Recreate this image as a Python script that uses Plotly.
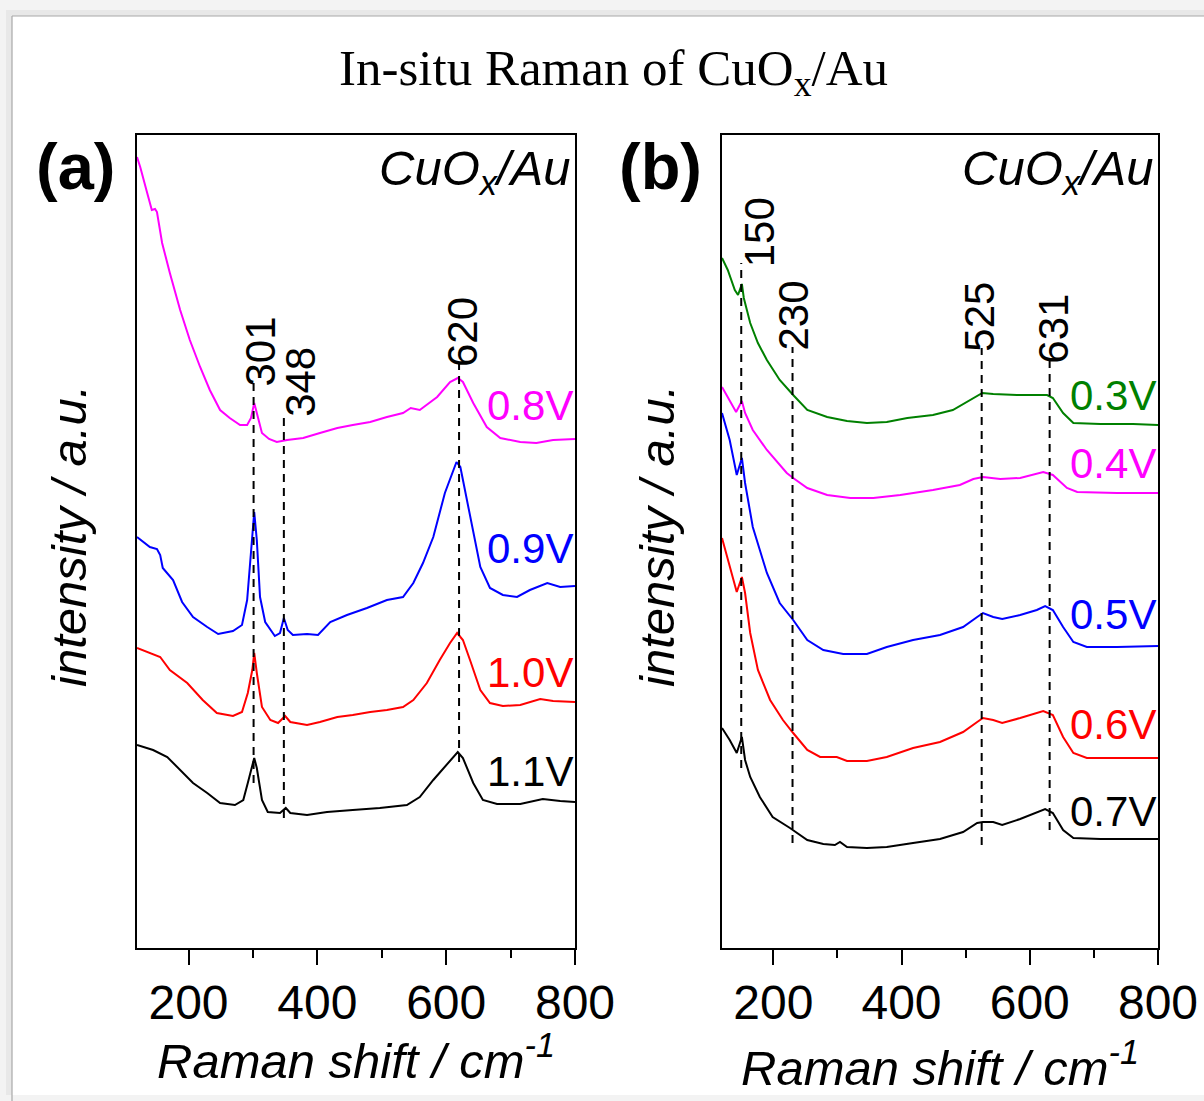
import plotly.graph_objects as go

W, H = 1204, 1101
SANS = "Liberation Sans, Arial, sans-serif"
SERIF = "Liberation Serif, Times New Roman, serif"

# ---------------- panel (a): anodic potentials ----------------
a_x_08 = [120, 125, 135, 143, 148, 151, 159, 171, 187, 202, 218, 233, 249, 264, 280, 291, 297, 302, 306, 314,
          325, 337, 353, 378, 404, 431, 455, 482, 508, 533, 545, 559, 586, 606, 618, 626, 642, 663, 684, 715,
          740, 766, 800]
a_y_08 = [791, 781, 757, 738, 739, 736, 705, 675, 638, 608, 581, 558, 538, 530, 523, 523, 530, 545, 535, 515,
          509, 506, 508, 510, 515, 520, 523, 526, 531, 535, 540, 538, 551, 566, 570, 566, 545, 521, 510, 506,
          505, 508, 509]

a_x_09 = [120, 140, 151, 156, 160, 176, 190, 207, 229, 246, 269, 283, 291, 297, 302, 306, 311, 319, 334, 342,
          348, 354, 362, 384, 401, 420, 446, 477, 508, 533, 549, 564, 580, 598, 616, 622, 634, 653, 668, 688,
          710, 730, 757, 777, 800]
a_y_09 = [411, 401, 399, 393, 380, 368, 346, 331, 321, 314, 317, 323, 348, 398, 436, 408, 351, 326, 312, 315,
          330, 318, 313, 314, 313, 326, 333, 340, 348, 351, 365, 385, 411, 455, 486, 481, 441, 381, 360, 353,
          351, 358, 365, 361, 362]

a_x_10 = [120, 140, 156, 171, 198, 222, 244, 269, 283, 292, 299, 302, 306, 314, 327, 339, 350, 358, 384, 404,
          431, 455, 482, 508, 533, 549, 570, 590, 606, 617, 626, 637, 653, 668, 688, 715, 746, 766, 800]
a_y_10 = [300, 295, 291, 278, 265, 248, 235, 232, 236, 255, 278, 295, 275, 241, 228, 225, 232, 226, 223, 226,
          231, 233, 236, 238, 241, 248, 265, 288, 305, 315, 308, 288, 258, 245, 242, 243, 249, 247, 246]

a_x_11 = [120, 145, 167, 187, 207, 229, 249, 272, 285, 292, 299, 302, 306, 314, 323, 342, 351, 358, 384, 415,
          455, 497, 539, 559, 580, 601, 618, 626, 642, 657, 679, 715, 750, 777, 800]
a_y_11 = [203, 198, 191, 178, 165, 155, 145, 143, 148, 165, 181, 190, 180, 148, 136, 135, 140, 135, 133, 136,
          138, 140, 143, 151, 168, 183, 196, 190, 165, 148, 144, 144, 149, 147, 146]

a_potentials = ["0.8V", "0.9V", "1.0V", "1.1V"]
a_peaks = [301, 348, 620]
a_peak_top = [565, 535, 585]
a_peak_bottom = [165, 130, 186]

# ---------------- panel (b): reducing potentials ----------------
b_x_03 = [120, 129, 140, 145, 151, 154, 164, 176, 190, 210, 231, 253, 284, 315, 346, 377, 409, 449, 480, 507,
          526, 543, 580, 627, 636, 652, 668, 710, 761, 800]
b_y_03 = [690, 678, 658, 653, 664, 650, 625, 605, 588, 568, 553, 538, 531, 527, 525, 526, 530, 533, 538, 548,
          555, 554, 553, 553, 550, 535, 525, 524, 524, 523]

b_x_04 = [120, 132, 142, 151, 156, 168, 190, 221, 231, 253, 284, 320, 356, 398, 449, 491, 512, 527, 554, 585,
          621, 636, 658, 674, 736, 800]
b_y_04 = [561, 548, 536, 547, 535, 518, 498, 475, 470, 460, 453, 450, 450, 453, 458, 463, 469, 471, 469, 470,
          476, 473, 460, 456, 455, 455]

b_x_05 = [120, 132, 143, 151, 156, 168, 179, 190, 210, 231, 253, 278, 309, 346, 377, 418, 460, 496, 518, 527,
          543, 557, 585, 611, 624, 636, 652, 668, 689, 736, 800]
b_y_05 = [535, 508, 473, 490, 465, 421, 398, 375, 345, 328, 308, 298, 294, 294, 301, 308, 313, 321, 331, 335,
          331, 329, 333, 338, 342, 338, 321, 306, 301, 301, 302]

b_x_06 = [120, 132, 143, 151, 156, 164, 176, 195, 215, 231, 253, 273, 299, 315, 346, 377, 418, 460, 496, 518,
          527, 543, 557, 585, 621, 636, 652, 668, 689, 736, 800]
b_y_06 = [410, 381, 356, 371, 355, 315, 278, 248, 228, 215, 198, 191, 191, 187, 187, 191, 200, 206, 216, 226,
          230, 228, 225, 230, 237, 233, 211, 195, 190, 190, 190]

b_x_07 = [120, 132, 143, 151, 156, 164, 179, 199, 226, 253, 278, 296, 304, 315, 346, 377, 418, 460, 496, 518,
          527, 543, 557, 585, 624, 636, 652, 668, 710, 800]
b_y_07 = [220, 208, 195, 211, 188, 171, 151, 131, 120, 108, 104, 103, 106, 101, 100, 101, 105, 109, 116, 125,
          126, 126, 123, 129, 139, 135, 118, 110, 109, 109]

b_potentials = ["0.3V", "0.4V", "0.5V", "0.6V", "0.7V"]
b_peaks = [150, 230, 525, 631]
b_peak_top = [685, 601, 600, 588]
b_peak_bottom = [180, 105, 103, 118]

# ---------------- styling ----------------
MAGENTA, BLUE, RED, BLACK, GREEN = "#ff00ff", "#0000ff", "#ff0000", "#000000", "#008000"

panel_a = [(a_x_08, a_y_08, MAGENTA), (a_x_09, a_y_09, BLUE), (a_x_10, a_y_10, RED), (a_x_11, a_y_11, BLACK)]
panel_b = [(b_x_03, b_y_03, GREEN), (b_x_04, b_y_04, MAGENTA), (b_x_05, b_y_05, BLUE),
           (b_x_06, b_y_06, RED), (b_x_07, b_y_07, BLACK)]

a_label_y = [543, 400, 276, 177]
b_label_y = [553, 485, 334, 224, 137]
a_peak_shift = [6, 16, 3]
b_peak_shift = [18, 0, -3, 3]

fig = go.Figure()


def line_trace(x, y, color, xa, ya, width=2.0, dash=None):
    return go.Scatter(x=x, y=y, mode="lines", xaxis=xa, yaxis=ya, showlegend=False, hoverinfo="skip",
                      line=dict(color=color, width=width, dash=dash))


for x, y, c in panel_a:
    fig.add_trace(line_trace(x, y, c, "x", "y"))
for x, y, c in panel_b:
    fig.add_trace(line_trace(x, y, c, "x2", "y2"))

for p, top, bot in zip(a_peaks, a_peak_top, a_peak_bottom):
    fig.add_trace(line_trace([p, p], [bot, top], BLACK, "x", "y", width=2, dash="8px,6px"))
for p, top, bot in zip(b_peaks, b_peak_top, b_peak_bottom):
    fig.add_trace(line_trace([p, p], [bot, top], BLACK, "x2", "y2", width=2, dash="8px,6px"))

x_dom_a = [137 / W, 575 / W]
x_dom_b = [722 / W, 1158 / W]
y_dom = [1 - 948 / H, 1 - 135 / H]

xaxis_style = dict(
    range=[120, 800], showline=True, mirror=True, linecolor="black", linewidth=2,
    ticks="outside", ticklen=15, tickwidth=2, tickcolor="black", ticklabelstandoff=-4,
    tickvals=[200, 400, 600, 800], tickfont=dict(family=SANS, size=48, color="black"),
    minor=dict(tickvals=[300, 500, 700], ticks="outside", ticklen=8, tickwidth=2, tickcolor="black"),
    showgrid=False, zeroline=False, fixedrange=True, automargin=False,
)
yaxis_style = dict(
    range=[0, 813], showline=True, mirror=True, linecolor="black", linewidth=2,
    ticks="", showticklabels=False, showgrid=False, zeroline=False, fixedrange=True, automargin=False,
)

ann = []


def px(xp, yp):
    return xp / W, 1 - yp / H


# figure title
tx, ty = px(613, 72)
ann.append(dict(text="In-situ Raman of CuO<sub>x</sub>/Au", x=tx, y=ty, xref="paper", yref="paper",
                xanchor="center", yanchor="middle", showarrow=False,
                font=dict(family=SERIF, size=51, color="black")))

# panel letters
for lab, (xp, yp) in [("<b>(a)</b>", (75, 166)), ("<b>(b)</b>", (660, 166))]:
    lx, ly = px(xp, yp)
    ann.append(dict(text=lab, x=lx, y=ly, xref="paper", yref="paper", xanchor="center", yanchor="middle",
                    showarrow=False, font=dict(family=SANS, size=65, color="black")))

# axis titles
for xp in (69, 657):
    lx, ly = px(xp, 536)
    ann.append(dict(text="<i>intensity / a.u.</i>", x=lx, y=ly, xref="paper", yref="paper", textangle=-90,
                    xanchor="center", yanchor="middle", showarrow=False,
                    font=dict(family=SANS, size=49, color="black")))
for xp, yp in ((356, 1057), (940, 1064)):
    lx, ly = px(xp, yp)
    ann.append(dict(text="<i>Raman shift / cm<sup>-1</sup></i>", x=lx, y=ly, xref="paper", yref="paper",
                    xanchor="center", yanchor="middle", showarrow=False,
                    font=dict(family=SANS, size=49, color="black")))

# sample tag in each panel
for xr, yr in (("x domain", "y domain"), ("x2 domain", "y2 domain")):
    ann.append(dict(text="<i>CuO<sub>x</sub>/Au</i>", x=1, y=1, xref=xr, yref=yr, xanchor="right",
                    yanchor="top", xshift=-3, yshift=-4, showarrow=False,
                    font=dict(family=SANS, size=49, color="black")))

# potential labels
for (x, y, c), lab, ly in zip(panel_a, a_potentials, a_label_y):
    ann.append(dict(text=lab, x=1, y=ly, xref="x domain", yref="y", xanchor="right", yanchor="middle",
                    showarrow=False, font=dict(family=SANS, size=42, color=c)))
for (x, y, c), lab, ly in zip(panel_b, b_potentials, b_label_y):
    ann.append(dict(text=lab, x=1, y=ly, xref="x2 domain", yref="y2", xanchor="right", yanchor="middle",
                    showarrow=False, font=dict(family=SANS, size=42, color=c)))

# peak position labels
for p, top, sh in zip(a_peaks, a_peak_top, a_peak_shift):
    ann.append(dict(text=str(p), x=p, y=top, xref="x", yref="y", textangle=-90, xanchor="center",
                    yanchor="bottom", xshift=sh, yshift=-6, showarrow=False,
                    font=dict(family=SANS, size=42, color="black")))
for p, top, sh in zip(b_peaks, b_peak_top, b_peak_shift):
    ann.append(dict(text=str(p), x=p, y=top, xref="x2", yref="y2", textangle=-90, xanchor="center",
                    yanchor="bottom", xshift=sh, yshift=-6, showarrow=False,
                    font=dict(family=SANS, size=42, color="black")))

# page card behind the figure
shapes = [
    dict(type="rect", xref="paper", yref="paper", x0=6 / W, x1=1, y0=1 - 1095 / H, y1=1 - 10 / H,
         fillcolor="#e8e8e8", line=dict(width=0), layer="below"),
    dict(type="rect", xref="paper", yref="paper", x0=12 / W, x1=1, y0=1 - 1095 / H, y1=1 - 16 / H,
         fillcolor="white", line=dict(width=0), layer="below"),
    dict(type="line", xref="paper", yref="paper", x0=12 / W, x1=1, y0=1 - 16 / H, y1=1 - 16 / H,
         line=dict(color="#a8a8a8", width=1.2), layer="below"),
    dict(type="line", xref="paper", yref="paper", x0=12 / W, x1=12 / W, y0=0, y1=1 - 16 / H,
         line=dict(color="#a8a8a8", width=1.2), layer="below"),
]

fig.update_layout(
    width=W, height=H, autosize=False,
    margin=dict(l=0, r=0, t=0, b=0, pad=0),
    paper_bgcolor="#f3f3f3", plot_bgcolor="white",
    xaxis=dict(domain=x_dom_a, anchor="y", **xaxis_style),
    yaxis=dict(domain=y_dom, anchor="x", **yaxis_style),
    xaxis2=dict(domain=x_dom_b, anchor="y2", **xaxis_style),
    yaxis2=dict(domain=y_dom, anchor="x2", **yaxis_style),
    annotations=ann, shapes=shapes, showlegend=False,
)

fig.write_html("out.html")
